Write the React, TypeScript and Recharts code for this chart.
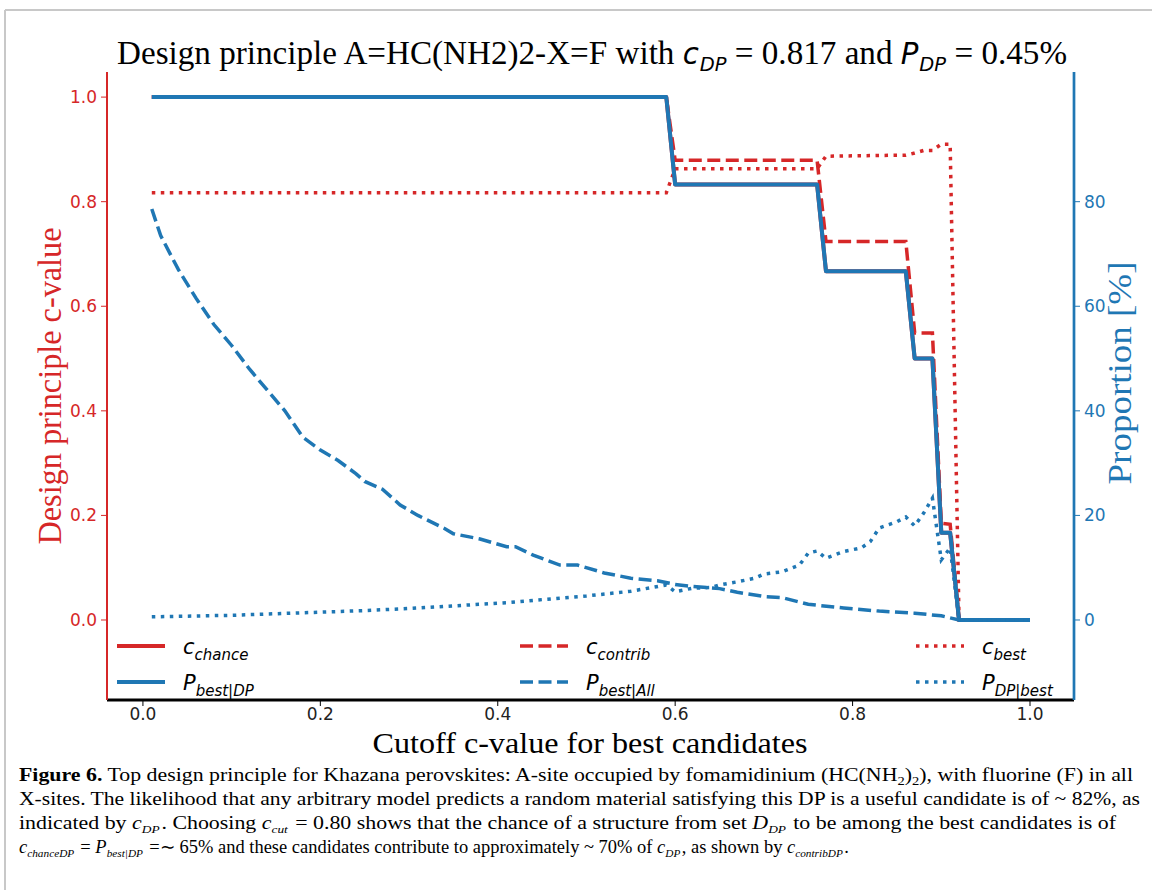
import React from 'react';
import { LineChart, Line, XAxis, YAxis } from 'recharts';

const RED = '#d62728';
const BLUE = '#1f77b4';
const SERIF = '"Liberation Serif", "Times New Roman", serif';
const SANS = '"DejaVu Sans", sans-serif';

// step curves, sampled only where they change (cutoff grid is 0.01)
const stepCutoffs = [0.01, 0.59, 0.6, 0.76, 0.77, 0.86, 0.87, 0.89, 0.9, 0.91, 0.92, 1.0];
const cChance = [1, 1, 0.833, 0.833, 0.667, 0.667, 0.5, 0.5, 0.167, 0.167, 0, 0];
const cContrib = [1, 1, 0.879, 0.879, 0.724, 0.724, 0.549, 0.549, 0.185, 0.183, 0, 0];
const pBestDP = [100, 100, 83.3, 83.3, 66.7, 66.7, 50, 50, 16.7, 16.7, 0, 0];

const bestCutoffs = [0.01, 0.59, 0.6, 0.76, 0.77, 0.86, 0.87, 0.88, 0.89, 0.9, 0.91, 0.92, 1.0];
const cBest = [0.817, 0.817, 0.863, 0.863, 0.887, 0.889, 0.893, 0.898, 0.898, 0.91, 0.91, 0, 0];

const allCutoffs = [
  0.01, 0.02, 0.04, 0.06, 0.08, 0.1, 0.12, 0.14, 0.16, 0.18, 0.2, 0.22, 0.24, 0.25, 0.27,
  0.29, 0.31, 0.34, 0.35, 0.38, 0.41, 0.42, 0.44, 0.47, 0.49, 0.52, 0.55, 0.58, 0.6, 0.62,
  0.65, 0.67, 0.7, 0.72, 0.75, 0.79, 0.83, 0.87, 0.9, 0.92, 1.0,
];
const pBestAll = [
  78.6, 73.5, 67, 61.5, 56.5, 52.5, 48, 44, 40, 35, 32.5, 30.5, 28, 26.5, 25,
  22, 20, 17.5, 16.5, 15.5, 14, 14, 12.4, 10.5, 10.5, 9, 8, 7.5, 6.8, 6.4,
  6, 5.3, 4.5, 4.3, 3, 2.3, 1.7, 1.3, 0.8, 0, 0,
];

const dpCutoffs = [
  0.01, 0.1, 0.2, 0.25, 0.3, 0.35, 0.41, 0.45, 0.5, 0.55, 0.59, 0.6, 0.62, 0.64, 0.65,
  0.67, 0.69, 0.7, 0.72, 0.74, 0.75, 0.76, 0.77, 0.79, 0.81, 0.82, 0.83, 0.85, 0.86, 0.87,
  0.88, 0.89, 0.9, 0.91, 0.92, 1.0,
];
const pDPBest = [
  0.6, 0.9, 1.5, 1.8, 2.2, 2.7, 3.3, 3.9, 4.6, 5.5, 6.7, 5.4, 6.1, 6.2, 6.7,
  7.3, 8, 8.8, 9.2, 10.5, 12.8, 13.2, 11.8, 13.1, 13.8, 15, 17.6, 18.8, 19.7, 18,
  20.4, 23.3, 11.5, 13.8, 0, 0,
];

const xTicks = [0, 0.2, 0.4, 0.6, 0.8, 1.0];
const cTicks = [0, 0.2, 0.4, 0.6, 0.8, 1.0];
const pTicks = [0, 20, 40, 60, 80];

const X_LIM: [number, number] = [-0.0405, 1.0496];
const C_LIM: [number, number] = [-0.153, 1.048];
const P_LIM: [number, number] = [-15.3, 104.8];

const toPoints = (xs: number[], ys: number[]) => xs.map((x, i) => ({ x, y: ys[i] }));

const DASHED = '13 5.5';
const DOTTED = '3.5 5.5';

const legendItems = [
  { col: 0, row: 0, color: RED, dash: undefined, main: 'c', sub: 'chance' },
  { col: 0, row: 1, color: BLUE, dash: undefined, main: 'P', sub: 'best|DP' },
  { col: 1, row: 0, color: RED, dash: DASHED, main: 'c', sub: 'contrib' },
  { col: 1, row: 1, color: BLUE, dash: DASHED, main: 'P', sub: 'best|All' },
  { col: 2, row: 0, color: RED, dash: DOTTED, main: 'c', sub: 'best' },
  { col: 2, row: 1, color: BLUE, dash: DOTTED, main: 'P', sub: 'DP|best' },
];
const legendCols = [117, 520, 916];
const legendRows = [646, 682];

// italic subscript for the caption, baseline restored afterwards
const Sub = ({ children }: { children: React.ReactNode }) => (
  <>
    <tspan dy={4} fontSize={11} fontStyle="italic">{children}</tspan>
    <tspan dy={-4}>{'\u200a'}</tspan>
  </>
);

const Overlay = () => (
  <svg width={1152} height={890} style={{ position: 'absolute', left: 0, top: 0, pointerEvents: 'none' }}>
    {/* page frame */}
    <line x1={5} y1={10} x2={1152} y2={10} stroke="#c8c8c8" strokeWidth={2} />
    <line x1={5} y1={10} x2={5} y2={890} stroke="#c8c8c8" strokeWidth={2} />

    {/* title */}
    <text x={117} y={64} fontFamily={SERIF} fontSize={34} fill="#000" textLength={950} lengthAdjust="spacingAndGlyphs">
      Design principle A=HC(NH2)2-X=F with{' '}
      <tspan fontFamily={SANS} fontStyle="italic" fontSize={30}>c</tspan>
      <tspan fontFamily={SANS} fontStyle="italic" fontSize={20} dx={1} dy={7}>DP</tspan>
      <tspan dy={-7}>{' '}= 0.817 and{' '}</tspan>
      <tspan fontFamily={SANS} fontStyle="italic" fontSize={30}>P</tspan>
      <tspan fontFamily={SANS} fontStyle="italic" fontSize={20} dx={1} dy={7}>DP</tspan>
      <tspan dy={-7}>{' '}= 0.45%</tspan>
    </text>

    {/* axis titles */}
    <text x={61} y={386} transform="rotate(-90 61 386)" textAnchor="middle" fontFamily={SERIF} fontSize={33}
      fill={RED} textLength={317} lengthAdjust="spacingAndGlyphs">
      Design principle c-value
    </text>
    <text x={1131} y={373} transform="rotate(-90 1131 373)" textAnchor="middle" fontFamily={SERIF} fontSize={33}
      fill={BLUE} textLength={223} lengthAdjust="spacingAndGlyphs">
      Proportion [%]
    </text>
    <text x={590} y={753} textAnchor="middle" fontFamily={SERIF} fontSize={30} fill="#000"
      textLength={435} lengthAdjust="spacingAndGlyphs">
      Cutoff c-value for best candidates
    </text>

    {/* legend */}
    {legendItems.map((it, i) => {
      const x0 = legendCols[it.col];
      const y0 = legendRows[it.row];
      return (
        <g key={i}>
          <line x1={x0} y1={y0} x2={x0 + 48} y2={y0} stroke={it.color} strokeWidth={it.dash ? 3.5 : 4}
            strokeDasharray={it.dash} />
          <text x={x0 + 66} y={y0 + 8} fontFamily={SANS} fontStyle="italic" fontSize={21} fill="#000">
            {it.main}
            <tspan fontSize={15} dy={6}>{it.sub}</tspan>
          </text>
        </g>
      );
    })}

    {/* caption */}
    <g fontFamily={SERIF} fontSize={18} fill="#000">
      <text x={19} y={781} textLength={1114} lengthAdjust="spacingAndGlyphs">
        <tspan fontWeight="bold">Figure 6.</tspan> Top design principle for Khazana perovskites: A-site occupied by fomamidinium (HC(NH
        <tspan fontSize={12} dy={4}>2</tspan><tspan dy={-4}>)</tspan>
        <tspan fontSize={12} dy={4}>2</tspan><tspan dy={-4}>), with fluorine (F) in all</tspan>
      </text>
      <text x={19} y={805} textLength={1121} lengthAdjust="spacingAndGlyphs">
        X-sites. The likelihood that any arbitrary model predicts a random material satisfying this DP is a useful candidate is of ~ 82%, as
      </text>
      <text x={19} y={829} textLength={1097} lengthAdjust="spacingAndGlyphs">
        indicated by <tspan fontStyle="italic">c</tspan><Sub>DP</Sub>. Choosing <tspan fontStyle="italic">c</tspan>
        <Sub>cut</Sub> = 0.80 shows that the chance of a structure from set <tspan fontStyle="italic">D</tspan>
        <Sub>DP</Sub> to be among the best candidates is of
      </text>
      <text x={19} y={853} textLength={830} lengthAdjust="spacingAndGlyphs">
        <tspan fontStyle="italic">c</tspan><Sub>chanceDP</Sub> = <tspan fontStyle="italic">P</tspan>
        <Sub>best|DP</Sub> =∼ 65% and these candidates contribute to approximately ~ 70% of{' '}
        <tspan fontStyle="italic">c</tspan><Sub>DP</Sub>, as shown by <tspan fontStyle="italic">c</tspan>
        <Sub>contribDP</Sub>.
      </text>
    </g>
  </svg>
);

export default function App() {
  const tickFont = { fontFamily: SANS, fontSize: 17 };
  return (
    <div style={{ position: 'absolute', left: 0, top: 0, width: 1152, height: 890, background: '#fff' }}>
      <LineChart width={1152} height={760} margin={{ top: 72, right: 18, bottom: 20, left: 47 }}>
        <XAxis dataKey="x" type="number" domain={X_LIM} allowDataOverflow ticks={xTicks}
          tickFormatter={(v: number) => v.toFixed(1)} height={40} tickSize={6} tickMargin={2}
          axisLine={{ stroke: '#000', strokeWidth: 3 }} tickLine={{ stroke: '#000' }}
          tick={{ ...tickFont, fill: '#222' }} />
        <XAxis xAxisId="top" orientation="top" dataKey="x" type="number" domain={X_LIM} allowDataOverflow
          height={0} tick={false} tickLine={false} axisLine={{ stroke: '#000', strokeWidth: 3 }} />
        <YAxis yAxisId="c" type="number" domain={C_LIM} allowDataOverflow ticks={cTicks} width={60}
          tickFormatter={(v: number) => v.toFixed(1)} tickSize={6} tickMargin={4}
          axisLine={{ stroke: RED, strokeWidth: 2 }} tickLine={{ stroke: RED }} tick={{ ...tickFont, fill: RED }} />
        <YAxis yAxisId="p" orientation="right" type="number" domain={P_LIM} allowDataOverflow ticks={pTicks}
          width={60} tickSize={6} tickMargin={4}
          axisLine={{ stroke: BLUE, strokeWidth: 2.7 }} tickLine={{ stroke: BLUE }} tick={{ ...tickFont, fill: BLUE }} />

        <Line data={toPoints(stepCutoffs, cChance)} dataKey="y" yAxisId="c" type="linear" stroke={RED}
          strokeWidth={4} strokeLinejoin="round" dot={false} isAnimationActive={false} />
        <Line data={toPoints(stepCutoffs, cContrib)} dataKey="y" yAxisId="c" type="linear" stroke={RED}
          strokeWidth={3.5} strokeDasharray={DASHED} dot={false} isAnimationActive={false} />
        <Line data={toPoints(bestCutoffs, cBest)} dataKey="y" yAxisId="c" type="linear" stroke={RED}
          strokeWidth={3.5} strokeDasharray={DOTTED} dot={false} isAnimationActive={false} />

        <Line data={toPoints(stepCutoffs, pBestDP)} dataKey="y" yAxisId="p" type="linear" stroke={BLUE}
          strokeWidth={4} strokeLinejoin="round" dot={false} isAnimationActive={false} />
        <Line data={toPoints(allCutoffs, pBestAll)} dataKey="y" yAxisId="p" type="linear" stroke={BLUE}
          strokeWidth={3.5} strokeDasharray={DASHED} dot={false} isAnimationActive={false} />
        <Line data={toPoints(dpCutoffs, pDPBest)} dataKey="y" yAxisId="p" type="linear" stroke={BLUE}
          strokeWidth={3.5} strokeDasharray={DOTTED} dot={false} isAnimationActive={false} />
      </LineChart>
      <Overlay />
    </div>
  );
}
